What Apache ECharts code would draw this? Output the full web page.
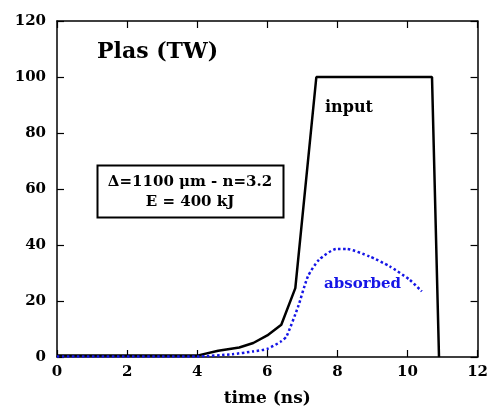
<!DOCTYPE html>
<html><head><meta charset="utf-8">
<script src="https://cdn.jsdelivr.net/npm/echarts@6/dist/echarts.min.js"></script>
<style>html,body{margin:0;padding:0;background:#fff}#c{width:491px;height:414px}</style>
</head><body><div id="c"></div>
<script>
var inputTime = [0, 4.0, 4.6, 5.2, 5.6, 6.0, 6.4, 6.8, 7.4, 10.7, 10.9];
var inputPower = [0.5, 0.5, 2.2, 3.4, 5.0, 7.7, 11.5, 24.6, 100, 100, 0];
var absTime = [0, 4.0, 5.0, 5.6, 6.0, 6.4, 6.55, 6.88, 7.16, 7.48, 7.97, 8.26, 8.92, 9.49, 10.06, 10.41];
var absPower = [0.2, 0.2, 1.0, 2.0, 2.9, 5.6, 7.4, 18.0, 28.8, 34.8, 38.6, 38.6, 35.9, 32.4, 27.6, 23.4];
var xTicks = [0, 2, 4, 6, 8, 10, 12];
var yTicks = [0, 20, 40, 60, 80, 100, 120];

var FONT = '"DejaVu Serif", serif';
function zip(a, b) { return a.map(function (v, i) { return [v, b[i]]; }); }
var chart = echarts.init(document.getElementById('c'), null, {renderer: 'canvas'});
var axisCommon = {
  type: 'value', splitLine: {show: false},
  axisLine: {show: true, onZero: false, lineStyle: {color: '#000', width: 1.5}},
  axisTick: {show: true, inside: true, length: 7, lineStyle: {color: '#000', width: 1.2}}
};
chart.setOption({
  animation: false,
  grid: {left: 57, right: 13, top: 21, bottom: 57},
  xAxis: [
    Object.assign({}, axisCommon, {min: xTicks[0], max: xTicks[xTicks.length - 1], interval: 2, position: 'bottom',
      name: 'time (ns)', nameLocation: 'middle', nameGap: 33,
      nameTextStyle: {fontFamily: FONT, fontWeight: 'bold', fontSize: 17, color: '#000'},
      axisLabel: {fontFamily: FONT, fontWeight: 'bold', fontSize: 15, color: '#000', margin: 8}}),
    Object.assign({}, axisCommon, {min: xTicks[0], max: xTicks[xTicks.length - 1], interval: 2, position: 'top',
      axisLabel: {show: false}})
  ],
  yAxis: [
    Object.assign({}, axisCommon, {min: yTicks[0], max: yTicks[yTicks.length - 1], interval: 20, position: 'left',
      axisLabel: {fontFamily: FONT, fontWeight: 'bold', fontSize: 15, color: '#000', margin: 11}}),
    Object.assign({}, axisCommon, {min: yTicks[0], max: yTicks[yTicks.length - 1], interval: 20, position: 'right',
      axisLabel: {show: false}})
  ],
  series: [
    {type: 'line', data: zip(inputTime, inputPower), showSymbol: false, symbol: 'none',
      lineStyle: {color: '#000', width: 2.5}, z: 3},
    {type: 'line', data: zip(absTime, absPower), showSymbol: false, symbol: 'none', smooth: 0.2,
      lineStyle: {color: '#1515e6', width: 2.5, type: [2.5, 2.5], cap: 'butt'}, z: 4}
  ],
  graphic: [
    {type: 'text', left: 97, top: 41, style: {text: 'Plas (TW)', font: 'bold 22px ' + FONT, fill: '#000'}},
    {type: 'rect', shape: {x: 97.5, y: 165.5, width: 186, height: 52}, style: {fill: '#fff', stroke: '#000', lineWidth: 2}},
    {type: 'text', x: 190, y: 182, style: {text: 'Δ=1100 μm - n=3.2', font: 'bold 15px ' + FONT, fill: '#000', align: 'center', verticalAlign: 'middle'}},
    {type: 'text', x: 190, y: 202, style: {text: 'E = 400 kJ', font: 'bold 15px ' + FONT, fill: '#000', align: 'center', verticalAlign: 'middle'}},
    {type: 'text', x: 325, y: 108, style: {text: 'input', font: 'bold 16px ' + FONT, fill: '#000', verticalAlign: 'middle'}},
    {type: 'text', x: 324, y: 284, style: {text: 'absorbed', font: 'bold 15px ' + FONT, fill: '#1515e6', verticalAlign: 'middle'}}
  ]
});
</script></body></html>
